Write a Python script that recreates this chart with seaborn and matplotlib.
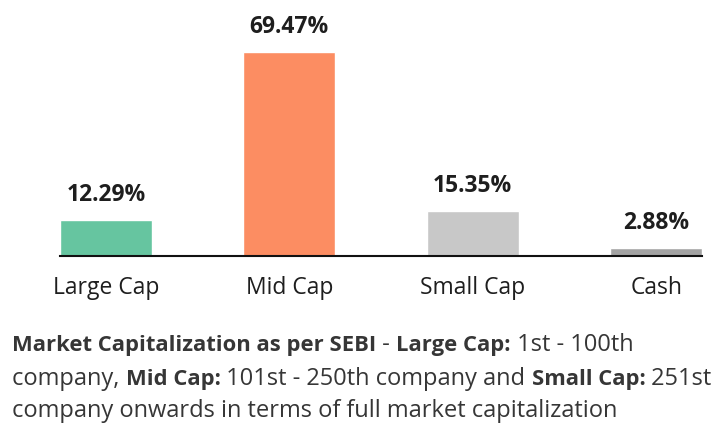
import matplotlib
matplotlib.use("Agg")
import matplotlib.pyplot as plt
import seaborn as sns
import pandas as pd

categories = ["Large Cap", "Mid Cap", "Small Cap", "Cash"]
values = [12.29, 69.47, 15.35, 2.88]
colors = ["#66c5a0", "#fc8d62", "#c8c8c8", "#a3a3a3"]

footnote_lines = [
    [("Market Capitalization as per SEBI", "bold"), (" - ", "normal"), ("Large Cap:", "bold"), (" 1st - 100th", "normal")],
    [("company, ", "normal"), ("Mid Cap:", "bold"), (" 101st - 250th company and ", "normal"), ("Small Cap:", "bold"), (" 251st", "normal")],
    [("company onwards in terms of full market capitalization", "normal")],
]

sns.set_style("white")
plt.rcParams["font.family"] = ["Open Sans", "DejaVu Sans"]
TXT = "#1e1e1e"

df = pd.DataFrame({"category": categories, "value": values})
fig = plt.figure(figsize=(7.21, 4.30), dpi=100)
ax = fig.add_axes([60/721, 1-256/430, 642/721, 235/430])
sns.barplot(data=df, x="category", y="value", hue="category", palette=colors,
            width=0.5, legend=False, ax=ax, saturation=1)
ax.set_xlim(-0.25, 3.25)
ax.set_ylim(0, 80)
for s in ["top", "right", "left"]:
    ax.spines[s].set_visible(False)
ax.spines["bottom"].set_color("#111111")
ax.spines["bottom"].set_linewidth(1.5)
ax.set_yticks([])
ax.set_xlabel("")
ax.set_ylabel("")
ax.tick_params(axis="x", length=0, pad=14.5, labelsize=16.5, colors=TXT)
for i, v in enumerate(values):
    ax.annotate(f"{v:.2f}%", (i, v), xytext=(0, 13.5), textcoords="offset points",
                ha="center", va="baseline", fontsize=16.5, fontweight="bold", color=TXT)

fig.canvas.draw()
renderer = fig.canvas.get_renderer()
y_px = [345, 379, 411]
sizes = {"bold": 15.8, "normal": 17.0}
for line, yp in zip(footnote_lines, y_px):
    x = 12
    for txt, w in line:
        t = fig.text(x/721, 1-yp/430, txt, fontsize=sizes[w], fontweight=w, color="#363636",
                     ha="left", va="center")
        bb = t.get_window_extent(renderer=renderer)
        x += bb.width

fig.savefig("out.png", dpi=100)
